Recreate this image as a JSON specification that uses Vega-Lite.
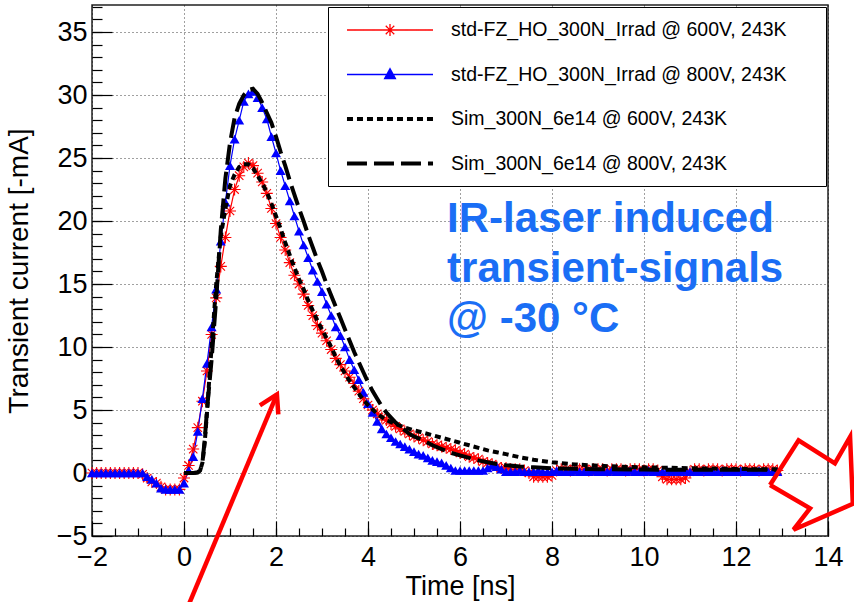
{
"$schema": "https://vega.github.io/schema/vega-lite/v6.json",
"width": 736, "height": 531,
"autosize": {"type": "none"},
"padding": {"left": 92, "top": 5, "right": 26, "bottom": 66},
"background": "white",
"config": {
  "font": "Liberation Sans",
  "view": {"stroke": "#222", "strokeWidth": 1.5},
  "axis": {"labelColor": "#000", "titleColor": "#000", "tickColor": "#000", "labelFont": "Liberation Sans", "titleFont": "Liberation Sans", "titleFontWeight": "normal"}
},
"resolve": {"axis": {"x": "independent", "y": "independent"}},
"datasets": {
"meas": [
{"series":"std-FZ_HO_300N_Irrad @ 600V, 243K","t":-2.0,"v":0},{"series":"std-FZ_HO_300N_Irrad @ 600V, 243K","t":-1.9,"v":0},{"series":"std-FZ_HO_300N_Irrad @ 600V, 243K","t":-1.8,"v":0},{"series":"std-FZ_HO_300N_Irrad @ 600V, 243K","t":-1.7,"v":0},{"series":"std-FZ_HO_300N_Irrad @ 600V, 243K","t":-1.6,"v":0},{"series":"std-FZ_HO_300N_Irrad @ 600V, 243K","t":-1.5,"v":0},{"series":"std-FZ_HO_300N_Irrad @ 600V, 243K","t":-1.4,"v":0},{"series":"std-FZ_HO_300N_Irrad @ 600V, 243K","t":-1.3,"v":0},{"series":"std-FZ_HO_300N_Irrad @ 600V, 243K","t":-1.2,"v":0},{"series":"std-FZ_HO_300N_Irrad @ 600V, 243K","t":-1.1,"v":0},
{"series":"std-FZ_HO_300N_Irrad @ 600V, 243K","t":-1.0,"v":0},{"series":"std-FZ_HO_300N_Irrad @ 600V, 243K","t":-0.9,"v":-0.1},{"series":"std-FZ_HO_300N_Irrad @ 600V, 243K","t":-0.8,"v":-0.4},{"series":"std-FZ_HO_300N_Irrad @ 600V, 243K","t":-0.7,"v":-0.7},{"series":"std-FZ_HO_300N_Irrad @ 600V, 243K","t":-0.6,"v":-0.8},{"series":"std-FZ_HO_300N_Irrad @ 600V, 243K","t":-0.5,"v":-1.1},{"series":"std-FZ_HO_300N_Irrad @ 600V, 243K","t":-0.4,"v":-1.3},{"series":"std-FZ_HO_300N_Irrad @ 600V, 243K","t":-0.3,"v":-1.3},{"series":"std-FZ_HO_300N_Irrad @ 600V, 243K","t":-0.2,"v":-1.3},{"series":"std-FZ_HO_300N_Irrad @ 600V, 243K","t":-0.1,"v":-1.3},
{"series":"std-FZ_HO_300N_Irrad @ 600V, 243K","t":0.0,"v":-0.4},{"series":"std-FZ_HO_300N_Irrad @ 600V, 243K","t":0.1,"v":0.6},{"series":"std-FZ_HO_300N_Irrad @ 600V, 243K","t":0.2,"v":1.9},{"series":"std-FZ_HO_300N_Irrad @ 600V, 243K","t":0.3,"v":3.6},{"series":"std-FZ_HO_300N_Irrad @ 600V, 243K","t":0.4,"v":5.7},{"series":"std-FZ_HO_300N_Irrad @ 600V, 243K","t":0.5,"v":8.1},{"series":"std-FZ_HO_300N_Irrad @ 600V, 243K","t":0.6,"v":11.0},{"series":"std-FZ_HO_300N_Irrad @ 600V, 243K","t":0.7,"v":13.9},{"series":"std-FZ_HO_300N_Irrad @ 600V, 243K","t":0.8,"v":16.4},{"series":"std-FZ_HO_300N_Irrad @ 600V, 243K","t":0.9,"v":18.7},
{"series":"std-FZ_HO_300N_Irrad @ 600V, 243K","t":1.0,"v":20.8},{"series":"std-FZ_HO_300N_Irrad @ 600V, 243K","t":1.1,"v":22.5},{"series":"std-FZ_HO_300N_Irrad @ 600V, 243K","t":1.2,"v":23.6},{"series":"std-FZ_HO_300N_Irrad @ 600V, 243K","t":1.3,"v":24.3},{"series":"std-FZ_HO_300N_Irrad @ 600V, 243K","t":1.4,"v":24.6},{"series":"std-FZ_HO_300N_Irrad @ 600V, 243K","t":1.5,"v":24.4},{"series":"std-FZ_HO_300N_Irrad @ 600V, 243K","t":1.6,"v":23.8},{"series":"std-FZ_HO_300N_Irrad @ 600V, 243K","t":1.7,"v":23.1},{"series":"std-FZ_HO_300N_Irrad @ 600V, 243K","t":1.8,"v":22.2},{"series":"std-FZ_HO_300N_Irrad @ 600V, 243K","t":1.9,"v":21.0},
{"series":"std-FZ_HO_300N_Irrad @ 600V, 243K","t":2.0,"v":19.8},{"series":"std-FZ_HO_300N_Irrad @ 600V, 243K","t":2.1,"v":18.7},{"series":"std-FZ_HO_300N_Irrad @ 600V, 243K","t":2.2,"v":17.7},{"series":"std-FZ_HO_300N_Irrad @ 600V, 243K","t":2.3,"v":16.7},{"series":"std-FZ_HO_300N_Irrad @ 600V, 243K","t":2.4,"v":15.7},{"series":"std-FZ_HO_300N_Irrad @ 600V, 243K","t":2.5,"v":15.0},{"series":"std-FZ_HO_300N_Irrad @ 600V, 243K","t":2.6,"v":14.2},{"series":"std-FZ_HO_300N_Irrad @ 600V, 243K","t":2.7,"v":13.3},{"series":"std-FZ_HO_300N_Irrad @ 600V, 243K","t":2.8,"v":12.5},{"series":"std-FZ_HO_300N_Irrad @ 600V, 243K","t":2.9,"v":11.7},
{"series":"std-FZ_HO_300N_Irrad @ 600V, 243K","t":3.0,"v":11.1},{"series":"std-FZ_HO_300N_Irrad @ 600V, 243K","t":3.1,"v":10.5},{"series":"std-FZ_HO_300N_Irrad @ 600V, 243K","t":3.2,"v":9.8},{"series":"std-FZ_HO_300N_Irrad @ 600V, 243K","t":3.3,"v":9.1},{"series":"std-FZ_HO_300N_Irrad @ 600V, 243K","t":3.4,"v":8.6},{"series":"std-FZ_HO_300N_Irrad @ 600V, 243K","t":3.5,"v":8.1},{"series":"std-FZ_HO_300N_Irrad @ 600V, 243K","t":3.6,"v":7.6},{"series":"std-FZ_HO_300N_Irrad @ 600V, 243K","t":3.7,"v":7.1},{"series":"std-FZ_HO_300N_Irrad @ 600V, 243K","t":3.8,"v":6.5},{"series":"std-FZ_HO_300N_Irrad @ 600V, 243K","t":3.9,"v":5.9},
{"series":"std-FZ_HO_300N_Irrad @ 600V, 243K","t":4.0,"v":5.4},{"series":"std-FZ_HO_300N_Irrad @ 600V, 243K","t":4.1,"v":5.0},{"series":"std-FZ_HO_300N_Irrad @ 600V, 243K","t":4.2,"v":4.7},{"series":"std-FZ_HO_300N_Irrad @ 600V, 243K","t":4.3,"v":4.4},{"series":"std-FZ_HO_300N_Irrad @ 600V, 243K","t":4.4,"v":4.2},{"series":"std-FZ_HO_300N_Irrad @ 600V, 243K","t":4.5,"v":3.9},{"series":"std-FZ_HO_300N_Irrad @ 600V, 243K","t":4.6,"v":3.7},{"series":"std-FZ_HO_300N_Irrad @ 600V, 243K","t":4.7,"v":3.5},{"series":"std-FZ_HO_300N_Irrad @ 600V, 243K","t":4.8,"v":3.3},{"series":"std-FZ_HO_300N_Irrad @ 600V, 243K","t":4.9,"v":3.1},
{"series":"std-FZ_HO_300N_Irrad @ 600V, 243K","t":5.0,"v":2.9},{"series":"std-FZ_HO_300N_Irrad @ 600V, 243K","t":5.1,"v":2.8},{"series":"std-FZ_HO_300N_Irrad @ 600V, 243K","t":5.2,"v":2.6},{"series":"std-FZ_HO_300N_Irrad @ 600V, 243K","t":5.3,"v":2.5},{"series":"std-FZ_HO_300N_Irrad @ 600V, 243K","t":5.4,"v":2.3},{"series":"std-FZ_HO_300N_Irrad @ 600V, 243K","t":5.5,"v":2.2},{"series":"std-FZ_HO_300N_Irrad @ 600V, 243K","t":5.6,"v":2.1},{"series":"std-FZ_HO_300N_Irrad @ 600V, 243K","t":5.7,"v":2.0},{"series":"std-FZ_HO_300N_Irrad @ 600V, 243K","t":5.8,"v":1.9},{"series":"std-FZ_HO_300N_Irrad @ 600V, 243K","t":5.9,"v":1.8},
{"series":"std-FZ_HO_300N_Irrad @ 600V, 243K","t":6.0,"v":1.6},{"series":"std-FZ_HO_300N_Irrad @ 600V, 243K","t":6.1,"v":1.5},{"series":"std-FZ_HO_300N_Irrad @ 600V, 243K","t":6.2,"v":1.3},{"series":"std-FZ_HO_300N_Irrad @ 600V, 243K","t":6.3,"v":1.2},{"series":"std-FZ_HO_300N_Irrad @ 600V, 243K","t":6.4,"v":1.1},{"series":"std-FZ_HO_300N_Irrad @ 600V, 243K","t":6.5,"v":0.9},{"series":"std-FZ_HO_300N_Irrad @ 600V, 243K","t":6.6,"v":0.8},{"series":"std-FZ_HO_300N_Irrad @ 600V, 243K","t":6.7,"v":0.7},{"series":"std-FZ_HO_300N_Irrad @ 600V, 243K","t":6.8,"v":0.5},{"series":"std-FZ_HO_300N_Irrad @ 600V, 243K","t":6.9,"v":0.4},
{"series":"std-FZ_HO_300N_Irrad @ 600V, 243K","t":7.0,"v":0.4},{"series":"std-FZ_HO_300N_Irrad @ 600V, 243K","t":7.1,"v":0.3},{"series":"std-FZ_HO_300N_Irrad @ 600V, 243K","t":7.2,"v":0.3},{"series":"std-FZ_HO_300N_Irrad @ 600V, 243K","t":7.3,"v":0.3},{"series":"std-FZ_HO_300N_Irrad @ 600V, 243K","t":7.4,"v":0.2},{"series":"std-FZ_HO_300N_Irrad @ 600V, 243K","t":7.5,"v":0.0},{"series":"std-FZ_HO_300N_Irrad @ 600V, 243K","t":7.6,"v":-0.3},{"series":"std-FZ_HO_300N_Irrad @ 600V, 243K","t":7.7,"v":-0.3},{"series":"std-FZ_HO_300N_Irrad @ 600V, 243K","t":7.8,"v":-0.3},{"series":"std-FZ_HO_300N_Irrad @ 600V, 243K","t":7.9,"v":-0.3},
{"series":"std-FZ_HO_300N_Irrad @ 600V, 243K","t":8.0,"v":-0.2},{"series":"std-FZ_HO_300N_Irrad @ 600V, 243K","t":8.1,"v":0.2},{"series":"std-FZ_HO_300N_Irrad @ 600V, 243K","t":8.2,"v":0.3},{"series":"std-FZ_HO_300N_Irrad @ 600V, 243K","t":8.3,"v":0.3},{"series":"std-FZ_HO_300N_Irrad @ 600V, 243K","t":8.4,"v":0.2},{"series":"std-FZ_HO_300N_Irrad @ 600V, 243K","t":8.5,"v":0.3},{"series":"std-FZ_HO_300N_Irrad @ 600V, 243K","t":8.6,"v":0.3},{"series":"std-FZ_HO_300N_Irrad @ 600V, 243K","t":8.7,"v":0.3},{"series":"std-FZ_HO_300N_Irrad @ 600V, 243K","t":8.8,"v":0.2},{"series":"std-FZ_HO_300N_Irrad @ 600V, 243K","t":8.9,"v":0.3},
{"series":"std-FZ_HO_300N_Irrad @ 600V, 243K","t":9.0,"v":0.3},{"series":"std-FZ_HO_300N_Irrad @ 600V, 243K","t":9.1,"v":0.3},{"series":"std-FZ_HO_300N_Irrad @ 600V, 243K","t":9.2,"v":0.2},{"series":"std-FZ_HO_300N_Irrad @ 600V, 243K","t":9.3,"v":0.3},{"series":"std-FZ_HO_300N_Irrad @ 600V, 243K","t":9.4,"v":0.3},{"series":"std-FZ_HO_300N_Irrad @ 600V, 243K","t":9.5,"v":0.3},{"series":"std-FZ_HO_300N_Irrad @ 600V, 243K","t":9.6,"v":0.2},{"series":"std-FZ_HO_300N_Irrad @ 600V, 243K","t":9.7,"v":0.3},{"series":"std-FZ_HO_300N_Irrad @ 600V, 243K","t":9.8,"v":0.3},{"series":"std-FZ_HO_300N_Irrad @ 600V, 243K","t":9.9,"v":0.3},
{"series":"std-FZ_HO_300N_Irrad @ 600V, 243K","t":10.0,"v":0.2},{"series":"std-FZ_HO_300N_Irrad @ 600V, 243K","t":10.1,"v":0.3},{"series":"std-FZ_HO_300N_Irrad @ 600V, 243K","t":10.2,"v":0.3},{"series":"std-FZ_HO_300N_Irrad @ 600V, 243K","t":10.3,"v":0.2},{"series":"std-FZ_HO_300N_Irrad @ 600V, 243K","t":10.4,"v":-0.3},{"series":"std-FZ_HO_300N_Irrad @ 600V, 243K","t":10.5,"v":-0.5},{"series":"std-FZ_HO_300N_Irrad @ 600V, 243K","t":10.6,"v":-0.5},{"series":"std-FZ_HO_300N_Irrad @ 600V, 243K","t":10.7,"v":-0.5},{"series":"std-FZ_HO_300N_Irrad @ 600V, 243K","t":10.8,"v":-0.5},{"series":"std-FZ_HO_300N_Irrad @ 600V, 243K","t":10.9,"v":-0.4},
{"series":"std-FZ_HO_300N_Irrad @ 600V, 243K","t":11.0,"v":0.1},{"series":"std-FZ_HO_300N_Irrad @ 600V, 243K","t":11.1,"v":0.3},{"series":"std-FZ_HO_300N_Irrad @ 600V, 243K","t":11.2,"v":0.3},{"series":"std-FZ_HO_300N_Irrad @ 600V, 243K","t":11.3,"v":0.2},{"series":"std-FZ_HO_300N_Irrad @ 600V, 243K","t":11.4,"v":0.3},{"series":"std-FZ_HO_300N_Irrad @ 600V, 243K","t":11.5,"v":0.3},{"series":"std-FZ_HO_300N_Irrad @ 600V, 243K","t":11.6,"v":0.3},{"series":"std-FZ_HO_300N_Irrad @ 600V, 243K","t":11.7,"v":0.2},{"series":"std-FZ_HO_300N_Irrad @ 600V, 243K","t":11.8,"v":0.3},{"series":"std-FZ_HO_300N_Irrad @ 600V, 243K","t":11.9,"v":0.3},
{"series":"std-FZ_HO_300N_Irrad @ 600V, 243K","t":12.0,"v":0.3},{"series":"std-FZ_HO_300N_Irrad @ 600V, 243K","t":12.1,"v":0.2},{"series":"std-FZ_HO_300N_Irrad @ 600V, 243K","t":12.2,"v":0.3},{"series":"std-FZ_HO_300N_Irrad @ 600V, 243K","t":12.3,"v":0.3},{"series":"std-FZ_HO_300N_Irrad @ 600V, 243K","t":12.4,"v":0.3},{"series":"std-FZ_HO_300N_Irrad @ 600V, 243K","t":12.5,"v":0.2},{"series":"std-FZ_HO_300N_Irrad @ 600V, 243K","t":12.6,"v":0.3},{"series":"std-FZ_HO_300N_Irrad @ 600V, 243K","t":12.7,"v":0.3},{"series":"std-FZ_HO_300N_Irrad @ 600V, 243K","t":12.8,"v":0.3},{"series":"std-FZ_HO_300N_Irrad @ 600V, 243K","t":12.9,"v":0.2},
{"series":"std-FZ_HO_300N_Irrad @ 800V, 243K","t":-2.0,"v":0},{"series":"std-FZ_HO_300N_Irrad @ 800V, 243K","t":-1.9,"v":0},{"series":"std-FZ_HO_300N_Irrad @ 800V, 243K","t":-1.8,"v":0},{"series":"std-FZ_HO_300N_Irrad @ 800V, 243K","t":-1.7,"v":0},{"series":"std-FZ_HO_300N_Irrad @ 800V, 243K","t":-1.6,"v":0},{"series":"std-FZ_HO_300N_Irrad @ 800V, 243K","t":-1.5,"v":0},{"series":"std-FZ_HO_300N_Irrad @ 800V, 243K","t":-1.4,"v":0},{"series":"std-FZ_HO_300N_Irrad @ 800V, 243K","t":-1.3,"v":0},{"series":"std-FZ_HO_300N_Irrad @ 800V, 243K","t":-1.2,"v":0},{"series":"std-FZ_HO_300N_Irrad @ 800V, 243K","t":-1.1,"v":0},
{"series":"std-FZ_HO_300N_Irrad @ 800V, 243K","t":-1.0,"v":0},{"series":"std-FZ_HO_300N_Irrad @ 800V, 243K","t":-0.9,"v":0.0},{"series":"std-FZ_HO_300N_Irrad @ 800V, 243K","t":-0.8,"v":-0.3},{"series":"std-FZ_HO_300N_Irrad @ 800V, 243K","t":-0.7,"v":-0.5},{"series":"std-FZ_HO_300N_Irrad @ 800V, 243K","t":-0.6,"v":-0.8},{"series":"std-FZ_HO_300N_Irrad @ 800V, 243K","t":-0.5,"v":-1.2},{"series":"std-FZ_HO_300N_Irrad @ 800V, 243K","t":-0.4,"v":-1.3},{"series":"std-FZ_HO_300N_Irrad @ 800V, 243K","t":-0.3,"v":-1.3},{"series":"std-FZ_HO_300N_Irrad @ 800V, 243K","t":-0.2,"v":-1.3},{"series":"std-FZ_HO_300N_Irrad @ 800V, 243K","t":-0.1,"v":-1.3},
{"series":"std-FZ_HO_300N_Irrad @ 800V, 243K","t":0.0,"v":-0.8},{"series":"std-FZ_HO_300N_Irrad @ 800V, 243K","t":0.1,"v":0.2},{"series":"std-FZ_HO_300N_Irrad @ 800V, 243K","t":0.2,"v":1.3},{"series":"std-FZ_HO_300N_Irrad @ 800V, 243K","t":0.3,"v":3.3},{"series":"std-FZ_HO_300N_Irrad @ 800V, 243K","t":0.4,"v":5.9},{"series":"std-FZ_HO_300N_Irrad @ 800V, 243K","t":0.5,"v":8.7},{"series":"std-FZ_HO_300N_Irrad @ 800V, 243K","t":0.6,"v":11.6},{"series":"std-FZ_HO_300N_Irrad @ 800V, 243K","t":0.7,"v":14.6},{"series":"std-FZ_HO_300N_Irrad @ 800V, 243K","t":0.8,"v":18.4},{"series":"std-FZ_HO_300N_Irrad @ 800V, 243K","t":0.9,"v":21.5},
{"series":"std-FZ_HO_300N_Irrad @ 800V, 243K","t":1.0,"v":24.4},{"series":"std-FZ_HO_300N_Irrad @ 800V, 243K","t":1.1,"v":26.5},{"series":"std-FZ_HO_300N_Irrad @ 800V, 243K","t":1.2,"v":28.0},{"series":"std-FZ_HO_300N_Irrad @ 800V, 243K","t":1.3,"v":29.5},{"series":"std-FZ_HO_300N_Irrad @ 800V, 243K","t":1.4,"v":30.1},{"series":"std-FZ_HO_300N_Irrad @ 800V, 243K","t":1.5,"v":30.3},{"series":"std-FZ_HO_300N_Irrad @ 800V, 243K","t":1.6,"v":29.8},{"series":"std-FZ_HO_300N_Irrad @ 800V, 243K","t":1.7,"v":29.0},{"series":"std-FZ_HO_300N_Irrad @ 800V, 243K","t":1.8,"v":28.1},{"series":"std-FZ_HO_300N_Irrad @ 800V, 243K","t":1.9,"v":26.7},
{"series":"std-FZ_HO_300N_Irrad @ 800V, 243K","t":2.0,"v":25.4},{"series":"std-FZ_HO_300N_Irrad @ 800V, 243K","t":2.1,"v":24.0},{"series":"std-FZ_HO_300N_Irrad @ 800V, 243K","t":2.2,"v":22.8},{"series":"std-FZ_HO_300N_Irrad @ 800V, 243K","t":2.3,"v":21.6},{"series":"std-FZ_HO_300N_Irrad @ 800V, 243K","t":2.4,"v":20.4},{"series":"std-FZ_HO_300N_Irrad @ 800V, 243K","t":2.5,"v":19.2},{"series":"std-FZ_HO_300N_Irrad @ 800V, 243K","t":2.6,"v":18.1},{"series":"std-FZ_HO_300N_Irrad @ 800V, 243K","t":2.7,"v":17.1},{"series":"std-FZ_HO_300N_Irrad @ 800V, 243K","t":2.8,"v":16.1},{"series":"std-FZ_HO_300N_Irrad @ 800V, 243K","t":2.9,"v":15.2},
{"series":"std-FZ_HO_300N_Irrad @ 800V, 243K","t":3.0,"v":14.4},{"series":"std-FZ_HO_300N_Irrad @ 800V, 243K","t":3.1,"v":13.4},{"series":"std-FZ_HO_300N_Irrad @ 800V, 243K","t":3.2,"v":12.5},{"series":"std-FZ_HO_300N_Irrad @ 800V, 243K","t":3.3,"v":11.6},{"series":"std-FZ_HO_300N_Irrad @ 800V, 243K","t":3.4,"v":10.9},{"series":"std-FZ_HO_300N_Irrad @ 800V, 243K","t":3.5,"v":10.0},{"series":"std-FZ_HO_300N_Irrad @ 800V, 243K","t":3.6,"v":9.0},{"series":"std-FZ_HO_300N_Irrad @ 800V, 243K","t":3.7,"v":8.2},{"series":"std-FZ_HO_300N_Irrad @ 800V, 243K","t":3.8,"v":7.4},{"series":"std-FZ_HO_300N_Irrad @ 800V, 243K","t":3.9,"v":6.4},
{"series":"std-FZ_HO_300N_Irrad @ 800V, 243K","t":4.0,"v":5.5},{"series":"std-FZ_HO_300N_Irrad @ 800V, 243K","t":4.1,"v":4.8},{"series":"std-FZ_HO_300N_Irrad @ 800V, 243K","t":4.2,"v":4.1},{"series":"std-FZ_HO_300N_Irrad @ 800V, 243K","t":4.3,"v":3.5},{"series":"std-FZ_HO_300N_Irrad @ 800V, 243K","t":4.4,"v":3.1},{"series":"std-FZ_HO_300N_Irrad @ 800V, 243K","t":4.5,"v":2.8},{"series":"std-FZ_HO_300N_Irrad @ 800V, 243K","t":4.6,"v":2.5},{"series":"std-FZ_HO_300N_Irrad @ 800V, 243K","t":4.7,"v":2.3},{"series":"std-FZ_HO_300N_Irrad @ 800V, 243K","t":4.8,"v":2.1},{"series":"std-FZ_HO_300N_Irrad @ 800V, 243K","t":4.9,"v":1.9},
{"series":"std-FZ_HO_300N_Irrad @ 800V, 243K","t":5.0,"v":1.7},{"series":"std-FZ_HO_300N_Irrad @ 800V, 243K","t":5.1,"v":1.5},{"series":"std-FZ_HO_300N_Irrad @ 800V, 243K","t":5.2,"v":1.4},{"series":"std-FZ_HO_300N_Irrad @ 800V, 243K","t":5.3,"v":1.2},{"series":"std-FZ_HO_300N_Irrad @ 800V, 243K","t":5.4,"v":1.0},{"series":"std-FZ_HO_300N_Irrad @ 800V, 243K","t":5.5,"v":0.9},{"series":"std-FZ_HO_300N_Irrad @ 800V, 243K","t":5.6,"v":0.8},{"series":"std-FZ_HO_300N_Irrad @ 800V, 243K","t":5.7,"v":0.6},{"series":"std-FZ_HO_300N_Irrad @ 800V, 243K","t":5.8,"v":0.4},{"series":"std-FZ_HO_300N_Irrad @ 800V, 243K","t":5.9,"v":0.2},
{"series":"std-FZ_HO_300N_Irrad @ 800V, 243K","t":6.0,"v":0.2},{"series":"std-FZ_HO_300N_Irrad @ 800V, 243K","t":6.1,"v":0.2},{"series":"std-FZ_HO_300N_Irrad @ 800V, 243K","t":6.2,"v":0.2},{"series":"std-FZ_HO_300N_Irrad @ 800V, 243K","t":6.3,"v":0.2},{"series":"std-FZ_HO_300N_Irrad @ 800V, 243K","t":6.4,"v":0.2},{"series":"std-FZ_HO_300N_Irrad @ 800V, 243K","t":6.5,"v":0.2},{"series":"std-FZ_HO_300N_Irrad @ 800V, 243K","t":6.6,"v":0.4},{"series":"std-FZ_HO_300N_Irrad @ 800V, 243K","t":6.7,"v":0.6},{"series":"std-FZ_HO_300N_Irrad @ 800V, 243K","t":6.8,"v":0.5},{"series":"std-FZ_HO_300N_Irrad @ 800V, 243K","t":6.9,"v":0.3},
{"series":"std-FZ_HO_300N_Irrad @ 800V, 243K","t":7.0,"v":0.1},{"series":"std-FZ_HO_300N_Irrad @ 800V, 243K","t":7.1,"v":0.1},{"series":"std-FZ_HO_300N_Irrad @ 800V, 243K","t":7.2,"v":0.1},{"series":"std-FZ_HO_300N_Irrad @ 800V, 243K","t":7.3,"v":0.2},{"series":"std-FZ_HO_300N_Irrad @ 800V, 243K","t":7.4,"v":0.1},{"series":"std-FZ_HO_300N_Irrad @ 800V, 243K","t":7.5,"v":0.1},{"series":"std-FZ_HO_300N_Irrad @ 800V, 243K","t":7.6,"v":0.1},{"series":"std-FZ_HO_300N_Irrad @ 800V, 243K","t":7.7,"v":0.2},{"series":"std-FZ_HO_300N_Irrad @ 800V, 243K","t":7.8,"v":0.1},{"series":"std-FZ_HO_300N_Irrad @ 800V, 243K","t":7.9,"v":0.1},
{"series":"std-FZ_HO_300N_Irrad @ 800V, 243K","t":8.0,"v":0.1},{"series":"std-FZ_HO_300N_Irrad @ 800V, 243K","t":8.1,"v":0.2},{"series":"std-FZ_HO_300N_Irrad @ 800V, 243K","t":8.2,"v":0.1},{"series":"std-FZ_HO_300N_Irrad @ 800V, 243K","t":8.3,"v":0.1},{"series":"std-FZ_HO_300N_Irrad @ 800V, 243K","t":8.4,"v":0.1},{"series":"std-FZ_HO_300N_Irrad @ 800V, 243K","t":8.5,"v":0.2},{"series":"std-FZ_HO_300N_Irrad @ 800V, 243K","t":8.6,"v":0.1},{"series":"std-FZ_HO_300N_Irrad @ 800V, 243K","t":8.7,"v":0.1},{"series":"std-FZ_HO_300N_Irrad @ 800V, 243K","t":8.8,"v":0.1},{"series":"std-FZ_HO_300N_Irrad @ 800V, 243K","t":8.9,"v":0.2},
{"series":"std-FZ_HO_300N_Irrad @ 800V, 243K","t":9.0,"v":0.1},{"series":"std-FZ_HO_300N_Irrad @ 800V, 243K","t":9.1,"v":0.1},{"series":"std-FZ_HO_300N_Irrad @ 800V, 243K","t":9.2,"v":0.1},{"series":"std-FZ_HO_300N_Irrad @ 800V, 243K","t":9.3,"v":0.2},{"series":"std-FZ_HO_300N_Irrad @ 800V, 243K","t":9.4,"v":0.1},{"series":"std-FZ_HO_300N_Irrad @ 800V, 243K","t":9.5,"v":0.1},{"series":"std-FZ_HO_300N_Irrad @ 800V, 243K","t":9.6,"v":0.1},{"series":"std-FZ_HO_300N_Irrad @ 800V, 243K","t":9.7,"v":0.2},{"series":"std-FZ_HO_300N_Irrad @ 800V, 243K","t":9.8,"v":0.1},{"series":"std-FZ_HO_300N_Irrad @ 800V, 243K","t":9.9,"v":0.1},
{"series":"std-FZ_HO_300N_Irrad @ 800V, 243K","t":10.0,"v":0.1},{"series":"std-FZ_HO_300N_Irrad @ 800V, 243K","t":10.1,"v":0.2},{"series":"std-FZ_HO_300N_Irrad @ 800V, 243K","t":10.2,"v":0.1},{"series":"std-FZ_HO_300N_Irrad @ 800V, 243K","t":10.3,"v":0.1},{"series":"std-FZ_HO_300N_Irrad @ 800V, 243K","t":10.4,"v":0.1},{"series":"std-FZ_HO_300N_Irrad @ 800V, 243K","t":10.5,"v":0.2},{"series":"std-FZ_HO_300N_Irrad @ 800V, 243K","t":10.6,"v":0.1},{"series":"std-FZ_HO_300N_Irrad @ 800V, 243K","t":10.7,"v":0.1},{"series":"std-FZ_HO_300N_Irrad @ 800V, 243K","t":10.8,"v":0.1},{"series":"std-FZ_HO_300N_Irrad @ 800V, 243K","t":10.9,"v":0.2},
{"series":"std-FZ_HO_300N_Irrad @ 800V, 243K","t":11.0,"v":0.1},{"series":"std-FZ_HO_300N_Irrad @ 800V, 243K","t":11.1,"v":0.1},{"series":"std-FZ_HO_300N_Irrad @ 800V, 243K","t":11.2,"v":0.1},{"series":"std-FZ_HO_300N_Irrad @ 800V, 243K","t":11.3,"v":0.2},{"series":"std-FZ_HO_300N_Irrad @ 800V, 243K","t":11.4,"v":0.1},{"series":"std-FZ_HO_300N_Irrad @ 800V, 243K","t":11.5,"v":0.1},{"series":"std-FZ_HO_300N_Irrad @ 800V, 243K","t":11.6,"v":0.1},{"series":"std-FZ_HO_300N_Irrad @ 800V, 243K","t":11.7,"v":0.2},{"series":"std-FZ_HO_300N_Irrad @ 800V, 243K","t":11.8,"v":0.1},{"series":"std-FZ_HO_300N_Irrad @ 800V, 243K","t":11.9,"v":0.1},
{"series":"std-FZ_HO_300N_Irrad @ 800V, 243K","t":12.0,"v":0.1},{"series":"std-FZ_HO_300N_Irrad @ 800V, 243K","t":12.1,"v":0.2},{"series":"std-FZ_HO_300N_Irrad @ 800V, 243K","t":12.2,"v":0.1},{"series":"std-FZ_HO_300N_Irrad @ 800V, 243K","t":12.3,"v":0.1},{"series":"std-FZ_HO_300N_Irrad @ 800V, 243K","t":12.4,"v":0.1},{"series":"std-FZ_HO_300N_Irrad @ 800V, 243K","t":12.5,"v":0.2},{"series":"std-FZ_HO_300N_Irrad @ 800V, 243K","t":12.6,"v":0.1},{"series":"std-FZ_HO_300N_Irrad @ 800V, 243K","t":12.7,"v":0.1},{"series":"std-FZ_HO_300N_Irrad @ 800V, 243K","t":12.8,"v":0.1},{"series":"std-FZ_HO_300N_Irrad @ 800V, 243K","t":12.9,"v":0.1}
],
"sim": [
{"series":"Sim_300N_6e14 @ 600V, 243K","t":0.0,"v":0},{"series":"Sim_300N_6e14 @ 600V, 243K","t":0.1,"v":0},{"series":"Sim_300N_6e14 @ 600V, 243K","t":0.2,"v":0},{"series":"Sim_300N_6e14 @ 600V, 243K","t":0.3,"v":0.05},{"series":"Sim_300N_6e14 @ 600V, 243K","t":0.35,"v":0.2},{"series":"Sim_300N_6e14 @ 600V, 243K","t":0.4,"v":0.8},{"series":"Sim_300N_6e14 @ 600V, 243K","t":0.45,"v":2.4},{"series":"Sim_300N_6e14 @ 600V, 243K","t":0.5,"v":4.8},{"series":"Sim_300N_6e14 @ 600V, 243K","t":0.55,"v":7.5},{"series":"Sim_300N_6e14 @ 600V, 243K","t":0.6,"v":10.0},
{"series":"Sim_300N_6e14 @ 600V, 243K","t":0.7,"v":15.0},{"series":"Sim_300N_6e14 @ 600V, 243K","t":0.8,"v":18.8},{"series":"Sim_300N_6e14 @ 600V, 243K","t":0.9,"v":21.0},{"series":"Sim_300N_6e14 @ 600V, 243K","t":1.0,"v":22.8},{"series":"Sim_300N_6e14 @ 600V, 243K","t":1.1,"v":23.7},{"series":"Sim_300N_6e14 @ 600V, 243K","t":1.2,"v":24.3},{"series":"Sim_300N_6e14 @ 600V, 243K","t":1.3,"v":24.5},{"series":"Sim_300N_6e14 @ 600V, 243K","t":1.4,"v":24.5},{"series":"Sim_300N_6e14 @ 600V, 243K","t":1.5,"v":24.2},{"series":"Sim_300N_6e14 @ 600V, 243K","t":1.6,"v":23.6},
{"series":"Sim_300N_6e14 @ 600V, 243K","t":1.7,"v":23.0},{"series":"Sim_300N_6e14 @ 600V, 243K","t":1.8,"v":22.3},{"series":"Sim_300N_6e14 @ 600V, 243K","t":1.9,"v":21.4},{"series":"Sim_300N_6e14 @ 600V, 243K","t":2.0,"v":20.4},{"series":"Sim_300N_6e14 @ 600V, 243K","t":2.1,"v":19.4},{"series":"Sim_300N_6e14 @ 600V, 243K","t":2.2,"v":18.3},{"series":"Sim_300N_6e14 @ 600V, 243K","t":2.3,"v":17.3},{"series":"Sim_300N_6e14 @ 600V, 243K","t":2.4,"v":16.3},{"series":"Sim_300N_6e14 @ 600V, 243K","t":2.5,"v":15.4},{"series":"Sim_300N_6e14 @ 600V, 243K","t":2.6,"v":14.6},
{"series":"Sim_300N_6e14 @ 600V, 243K","t":2.7,"v":13.7},{"series":"Sim_300N_6e14 @ 600V, 243K","t":2.8,"v":12.9},{"series":"Sim_300N_6e14 @ 600V, 243K","t":2.9,"v":12.1},{"series":"Sim_300N_6e14 @ 600V, 243K","t":3.0,"v":11.4},{"series":"Sim_300N_6e14 @ 600V, 243K","t":3.1,"v":10.7},{"series":"Sim_300N_6e14 @ 600V, 243K","t":3.2,"v":10.0},{"series":"Sim_300N_6e14 @ 600V, 243K","t":3.3,"v":9.2},{"series":"Sim_300N_6e14 @ 600V, 243K","t":3.4,"v":8.5},{"series":"Sim_300N_6e14 @ 600V, 243K","t":3.5,"v":7.9},{"series":"Sim_300N_6e14 @ 600V, 243K","t":3.6,"v":7.3},
{"series":"Sim_300N_6e14 @ 600V, 243K","t":3.7,"v":6.8},{"series":"Sim_300N_6e14 @ 600V, 243K","t":3.8,"v":6.3},{"series":"Sim_300N_6e14 @ 600V, 243K","t":3.9,"v":5.8},{"series":"Sim_300N_6e14 @ 600V, 243K","t":4.0,"v":5.4},{"series":"Sim_300N_6e14 @ 600V, 243K","t":4.2,"v":4.7},{"series":"Sim_300N_6e14 @ 600V, 243K","t":4.4,"v":4.2},{"series":"Sim_300N_6e14 @ 600V, 243K","t":4.6,"v":3.9},{"series":"Sim_300N_6e14 @ 600V, 243K","t":4.8,"v":3.6},{"series":"Sim_300N_6e14 @ 600V, 243K","t":5.0,"v":3.4},{"series":"Sim_300N_6e14 @ 600V, 243K","t":5.2,"v":3.2},
{"series":"Sim_300N_6e14 @ 600V, 243K","t":5.4,"v":3.0},{"series":"Sim_300N_6e14 @ 600V, 243K","t":5.6,"v":2.8},{"series":"Sim_300N_6e14 @ 600V, 243K","t":5.8,"v":2.6},{"series":"Sim_300N_6e14 @ 600V, 243K","t":6.0,"v":2.4},{"series":"Sim_300N_6e14 @ 600V, 243K","t":6.2,"v":2.2},{"series":"Sim_300N_6e14 @ 600V, 243K","t":6.4,"v":2.0},{"series":"Sim_300N_6e14 @ 600V, 243K","t":6.6,"v":1.8},{"series":"Sim_300N_6e14 @ 600V, 243K","t":6.8,"v":1.65},{"series":"Sim_300N_6e14 @ 600V, 243K","t":7.0,"v":1.5},{"series":"Sim_300N_6e14 @ 600V, 243K","t":7.3,"v":1.25},
{"series":"Sim_300N_6e14 @ 600V, 243K","t":7.6,"v":1.05},{"series":"Sim_300N_6e14 @ 600V, 243K","t":8.0,"v":0.85},{"series":"Sim_300N_6e14 @ 600V, 243K","t":8.5,"v":0.68},{"series":"Sim_300N_6e14 @ 600V, 243K","t":9.0,"v":0.58},{"series":"Sim_300N_6e14 @ 600V, 243K","t":9.5,"v":0.5},{"series":"Sim_300N_6e14 @ 600V, 243K","t":10.0,"v":0.45},{"series":"Sim_300N_6e14 @ 600V, 243K","t":10.5,"v":0.42},{"series":"Sim_300N_6e14 @ 600V, 243K","t":11.0,"v":0.38},{"series":"Sim_300N_6e14 @ 600V, 243K","t":11.5,"v":0.35},{"series":"Sim_300N_6e14 @ 600V, 243K","t":12.0,"v":0.32},
{"series":"Sim_300N_6e14 @ 600V, 243K","t":12.5,"v":0.3},{"series":"Sim_300N_6e14 @ 600V, 243K","t":12.9,"v":0.3},
{"series":"Sim_300N_6e14 @ 800V, 243K","t":0.0,"v":0},{"series":"Sim_300N_6e14 @ 800V, 243K","t":0.1,"v":0},{"series":"Sim_300N_6e14 @ 800V, 243K","t":0.2,"v":0},{"series":"Sim_300N_6e14 @ 800V, 243K","t":0.3,"v":0.05},{"series":"Sim_300N_6e14 @ 800V, 243K","t":0.35,"v":0.2},{"series":"Sim_300N_6e14 @ 800V, 243K","t":0.4,"v":0.8},{"series":"Sim_300N_6e14 @ 800V, 243K","t":0.45,"v":2.6},{"series":"Sim_300N_6e14 @ 800V, 243K","t":0.5,"v":5.0},{"series":"Sim_300N_6e14 @ 800V, 243K","t":0.55,"v":7.0},{"series":"Sim_300N_6e14 @ 800V, 243K","t":0.6,"v":9.0},
{"series":"Sim_300N_6e14 @ 800V, 243K","t":0.7,"v":13.8},{"series":"Sim_300N_6e14 @ 800V, 243K","t":0.8,"v":19.3},{"series":"Sim_300N_6e14 @ 800V, 243K","t":0.9,"v":23.4},{"series":"Sim_300N_6e14 @ 800V, 243K","t":1.0,"v":26.2},{"series":"Sim_300N_6e14 @ 800V, 243K","t":1.1,"v":28.2},{"series":"Sim_300N_6e14 @ 800V, 243K","t":1.2,"v":29.3},{"series":"Sim_300N_6e14 @ 800V, 243K","t":1.3,"v":30.0},{"series":"Sim_300N_6e14 @ 800V, 243K","t":1.4,"v":30.4},{"series":"Sim_300N_6e14 @ 800V, 243K","t":1.5,"v":30.5},{"series":"Sim_300N_6e14 @ 800V, 243K","t":1.6,"v":30.1},
{"series":"Sim_300N_6e14 @ 800V, 243K","t":1.7,"v":29.4},{"series":"Sim_300N_6e14 @ 800V, 243K","t":1.8,"v":28.6},{"series":"Sim_300N_6e14 @ 800V, 243K","t":1.9,"v":27.8},{"series":"Sim_300N_6e14 @ 800V, 243K","t":2.0,"v":26.7},{"series":"Sim_300N_6e14 @ 800V, 243K","t":2.1,"v":25.5},{"series":"Sim_300N_6e14 @ 800V, 243K","t":2.2,"v":24.4},{"series":"Sim_300N_6e14 @ 800V, 243K","t":2.3,"v":23.2},{"series":"Sim_300N_6e14 @ 800V, 243K","t":2.4,"v":22.1},{"series":"Sim_300N_6e14 @ 800V, 243K","t":2.5,"v":21.0},{"series":"Sim_300N_6e14 @ 800V, 243K","t":2.6,"v":20.0},
{"series":"Sim_300N_6e14 @ 800V, 243K","t":2.7,"v":18.9},{"series":"Sim_300N_6e14 @ 800V, 243K","t":2.8,"v":17.9},{"series":"Sim_300N_6e14 @ 800V, 243K","t":2.9,"v":16.9},{"series":"Sim_300N_6e14 @ 800V, 243K","t":3.0,"v":16.0},{"series":"Sim_300N_6e14 @ 800V, 243K","t":3.1,"v":15.0},{"series":"Sim_300N_6e14 @ 800V, 243K","t":3.2,"v":14.1},{"series":"Sim_300N_6e14 @ 800V, 243K","t":3.3,"v":13.2},{"series":"Sim_300N_6e14 @ 800V, 243K","t":3.4,"v":12.3},{"series":"Sim_300N_6e14 @ 800V, 243K","t":3.5,"v":11.4},{"series":"Sim_300N_6e14 @ 800V, 243K","t":3.6,"v":10.5},
{"series":"Sim_300N_6e14 @ 800V, 243K","t":3.7,"v":9.6},{"series":"Sim_300N_6e14 @ 800V, 243K","t":3.8,"v":8.8},{"series":"Sim_300N_6e14 @ 800V, 243K","t":3.9,"v":8.0},{"series":"Sim_300N_6e14 @ 800V, 243K","t":4.0,"v":7.2},{"series":"Sim_300N_6e14 @ 800V, 243K","t":4.1,"v":6.5},{"series":"Sim_300N_6e14 @ 800V, 243K","t":4.2,"v":5.9},{"series":"Sim_300N_6e14 @ 800V, 243K","t":4.3,"v":5.3},{"series":"Sim_300N_6e14 @ 800V, 243K","t":4.4,"v":4.8},{"series":"Sim_300N_6e14 @ 800V, 243K","t":4.5,"v":4.4},{"series":"Sim_300N_6e14 @ 800V, 243K","t":4.6,"v":4.0},
{"series":"Sim_300N_6e14 @ 800V, 243K","t":4.7,"v":3.7},{"series":"Sim_300N_6e14 @ 800V, 243K","t":4.8,"v":3.4},{"series":"Sim_300N_6e14 @ 800V, 243K","t":4.9,"v":3.1},{"series":"Sim_300N_6e14 @ 800V, 243K","t":5.0,"v":2.9},{"series":"Sim_300N_6e14 @ 800V, 243K","t":5.2,"v":2.6},{"series":"Sim_300N_6e14 @ 800V, 243K","t":5.4,"v":2.2},{"series":"Sim_300N_6e14 @ 800V, 243K","t":5.6,"v":1.9},{"series":"Sim_300N_6e14 @ 800V, 243K","t":5.8,"v":1.6},{"series":"Sim_300N_6e14 @ 800V, 243K","t":6.0,"v":1.4},{"series":"Sim_300N_6e14 @ 800V, 243K","t":6.2,"v":1.2},
{"series":"Sim_300N_6e14 @ 800V, 243K","t":6.4,"v":1.0},{"series":"Sim_300N_6e14 @ 800V, 243K","t":6.6,"v":0.85},{"series":"Sim_300N_6e14 @ 800V, 243K","t":6.8,"v":0.72},{"series":"Sim_300N_6e14 @ 800V, 243K","t":7.0,"v":0.62},{"series":"Sim_300N_6e14 @ 800V, 243K","t":7.3,"v":0.52},{"series":"Sim_300N_6e14 @ 800V, 243K","t":7.6,"v":0.45},{"series":"Sim_300N_6e14 @ 800V, 243K","t":8.0,"v":0.38},{"series":"Sim_300N_6e14 @ 800V, 243K","t":8.5,"v":0.33},{"series":"Sim_300N_6e14 @ 800V, 243K","t":9.0,"v":0.3},{"series":"Sim_300N_6e14 @ 800V, 243K","t":10.0,"v":0.27},
{"series":"Sim_300N_6e14 @ 800V, 243K","t":11.0,"v":0.25},{"series":"Sim_300N_6e14 @ 800V, 243K","t":12.0,"v":0.25},{"series":"Sim_300N_6e14 @ 800V, 243K","t":12.9,"v":0.25}
],
"arrows": [
{"shape":"shaft","k":0,"x":0.04,"y":-11.0},{"shape":"shaft","k":1,"x":2.02,"y":6.24},
{"shape":"head","k":0,"x":1.65,"y":5.37},{"shape":"head","k":1,"x":2.02,"y":6.24},{"shape":"head","k":2,"x":2.05,"y":4.66},
{"shape":"block","k":0,"x":12.74,"y":-0.95},{"shape":"block","k":1,"x":13.36,"y":2.6},{"shape":"block","k":2,"x":14.15,"y":0.77},{"shape":"block","k":3,"x":14.48,"y":2.87},{"shape":"block","k":4,"x":14.54,"y":-2.45},{"shape":"block","k":5,"x":13.25,"y":-4.5},{"shape":"block","k":6,"x":13.61,"y":-2.8},{"shape":"block","k":7,"x":12.74,"y":-0.95}
]
},
"layer": [
{
  "data": {"name": "meas"},
  "mark": {"type": "line", "strokeWidth": 1.2},
  "encoding": {
    "x": {"field": "t", "type": "quantitative", "scale": {"domain": [-2, 14], "nice": false, "zero": false},
      "axis": {"orient": "bottom", "values": [-2,0,2,4,6,8,10,12,14], "format": "d", "title": "Time [ns]", "titleFontSize": 27, "titlePadding": 3, "labelFontSize": 27, "labelPadding": 23, "tickSize": -15, "tickWidth": 1.2, "domain": false, "grid": true, "gridDash": [1,3], "gridColor": "#000", "gridOpacity": 0.75, "labelFlush": false, "labelOverlap": false}},
    "y": {"field": "v", "type": "quantitative", "scale": {"domain": [-5, 37.15], "nice": false, "zero": false},
      "axis": {"orient": "left", "values": [-5,0,5,10,15,20,25,30,35], "format": "d", "title": "Transient current [-mA]", "titleFontSize": 28, "titlePadding": 23, "labelFontSize": 27, "labelPadding": 25, "tickSize": -20, "tickWidth": 1.2, "domain": false, "grid": true, "gridDash": [1,3], "gridColor": "#000", "gridOpacity": 0.75, "labelFlush": false, "labelOverlap": false}},
    "color": {"field": "series", "type": "nominal",
      "scale": {"domain": ["std-FZ_HO_300N_Irrad @ 600V, 243K", "std-FZ_HO_300N_Irrad @ 800V, 243K", "Sim_300N_6e14 @ 600V, 243K", "Sim_300N_6e14 @ 800V, 243K"], "range": ["#ff0000", "#0000ff", "#000000", "#000000"]},
      "legend": {
        "orient": "none", "legendX": 236, "legendY": 2, "title": null,
        "padding": 13, "strokeColor": "#000", "fillColor": "#fff",
        "labelFont": "Liberation Sans", "labelFontSize": 19.5, "labelColor": "#000", "labelLimit": 600,
        "symbolSize": 324, "symbolStrokeWidth": 1.5, "rowPadding": 24.5,
        "encode": {
          "symbols": {"update": {
            "x": {"value": 49}, "y": {"value": 10},
            "shape": {"signal": "['M-4.78,0H4.78M0,-0.67V0.67M-0.67,0H0.67M-0.47,-0.47L0.47,0.47M-0.47,0.47L0.47,-0.47M46.6,0', 'M-4.78,0H4.78M0,-0.65L0.6,0.45L-0.6,0.45Z', 'M-4.78,0H4.78', 'M-4.78,0H4.78'][datum.index]"},
            "stroke": {"signal": "['#ff0000','#0000ff','#000000','#000000'][datum.index]"},
            "fill": {"signal": "datum.index == 1 ? '#0000ff' : 'transparent'"},
            "strokeDash": {"signal": "[[1,0],[1,0],[6,4],[20,7]][datum.index]"},
            "strokeWidth": {"signal": "[1.3,1.3,4,4][datum.index]"},
            "opacity": {"value": 1}
          }},
          "labels": {"update": {"x": {"value": 110}, "y": {"value": 10}}}
        }
      }}
  }
},
{
  "data": {"name": "meas"},
  "transform": [{"filter": "datum.series == 'std-FZ_HO_300N_Irrad @ 600V, 243K'"}],
  "mark": {"type": "point", "shape": "M0,-1V1M-1,0H1M-0.7,-0.7L0.7,0.7M-0.7,0.7L0.7,-0.7", "filled": false, "stroke": "#ff0000", "strokeWidth": 1.1, "size": 144, "opacity": 1},
  "encoding": {
    "x": {"field": "t", "type": "quantitative", "axis": {"orient": "bottom", "values": [-2,-1.5,-1,-0.5,0,0.5,1,1.5,2,2.5,3,3.5,4,4.5,5,5.5,6,6.5,7,7.5,8,8.5,9,9.5,10,10.5,11,11.5,12,12.5,13,13.5,14], "labels": false, "title": null, "tickSize": -8, "tickWidth": 1.2, "domain": false, "grid": false}},
    "y": {"field": "v", "type": "quantitative", "axis": {"orient": "left", "values": [-5,-4,-3,-2,-1,0,1,2,3,4,5,6,7,8,9,10,11,12,13,14,15,16,17,18,19,20,21,22,23,24,25,26,27,28,29,30,31,32,33,34,35,36,37], "labels": false, "title": null, "tickSize": -10, "tickWidth": 1.2, "domain": false, "grid": false}}
  }
},
{
  "data": {"name": "meas"},
  "transform": [{"filter": "datum.series == 'std-FZ_HO_300N_Irrad @ 800V, 243K'"}],
  "mark": {"type": "point", "shape": "triangle-up", "filled": true, "color": "#0000ff", "size": 100, "opacity": 1},
  "encoding": {
    "x": {"field": "t", "type": "quantitative", "axis": null},
    "y": {"field": "v", "type": "quantitative", "axis": null}
  }
},
{
  "data": {"name": "sim"},
  "mark": {"type": "line", "color": "#000000", "strokeWidth": 4},
  "encoding": {
    "x": {"field": "t", "type": "quantitative", "axis": null},
    "y": {"field": "v", "type": "quantitative", "axis": null},
    "strokeDash": {"field": "series", "type": "nominal", "scale": {"domain": ["Sim_300N_6e14 @ 600V, 243K", "Sim_300N_6e14 @ 800V, 243K"], "range": [[6,4],[20,7]]}, "legend": null}
  }
},
{
  "data": {"values": [{}]},
  "mark": {"type": "text", "text": ["IR-laser induced", "transient-signals", "@ -30 °C"], "align": "left", "baseline": "alphabetic", "font": "Liberation Sans", "fontWeight": "bold", "fontSize": 42, "lineHeight": 50, "color": "#1a6ef5"},
  "encoding": {
    "x": {"datum": 5.72, "type": "quantitative", "axis": null},
    "y": {"datum": 19.1, "type": "quantitative", "axis": null}
  }
},
{
  "data": {"name": "arrows"},
  "mark": {"type": "line", "color": "#ff0000", "strokeWidth": 4.5, "strokeJoin": "miter", "clip": false},
  "encoding": {
    "x": {"field": "x", "type": "quantitative", "axis": null},
    "y": {"field": "y", "type": "quantitative", "axis": null},
    "detail": {"field": "shape", "type": "nominal"},
    "order": {"field": "k", "type": "quantitative"}
  }
}
]
}
